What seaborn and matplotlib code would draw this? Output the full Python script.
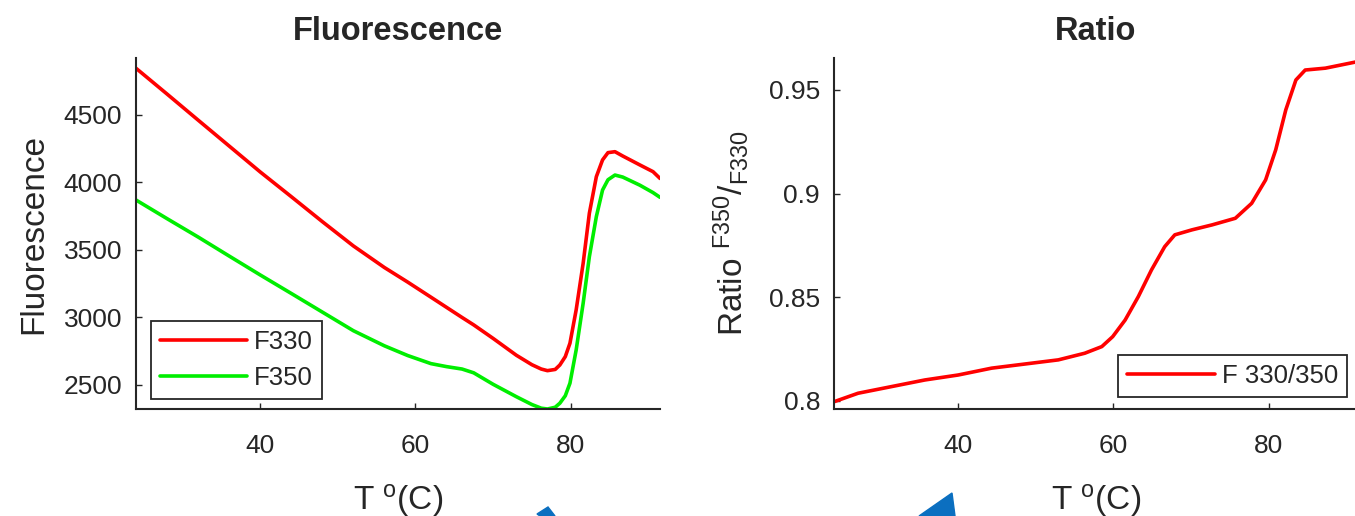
import numpy as np
import pandas as pd
import seaborn as sns
import matplotlib.pyplot as plt
from matplotlib.patches import Polygon

# temperature grid (deg C) and the two fluorescence channels
temp = [24.0, 28.0, 32.0, 36.0, 40.0, 44.0, 48.0, 52.0, 56.0, 59.0, 62.0, 64.0,
        66.0, 67.5, 70.0, 73.0, 75.0, 76.2, 77.0, 78.0, 78.6, 79.3, 79.9, 80.7,
        81.6, 82.4, 83.3, 84.1, 84.8, 85.7, 86.7, 88.9, 90.6, 91.5]
f330 = [4846, 4655, 4462, 4270, 4078, 3895, 3710, 3530, 3370, 3262, 3150, 3075,
        3000, 2945, 2845, 2720, 2650, 2618, 2606, 2615, 2648, 2710, 2809, 3056,
        3401, 3772, 4043, 4167, 4221, 4228, 4196, 4130, 4080, 4030]
f350 = [3870, 3732, 3596, 3455, 3315, 3178, 3040, 2902, 2790, 2718, 2658, 2636,
        2618, 2590, 2505, 2413, 2355, 2328, 2322, 2335, 2365, 2420, 2513, 2759,
        3105, 3450, 3747, 3944, 4020, 4055, 4040, 3980, 3925, 3890]

# ratio curve
ratio_temp = [24.0, 27.1, 31.4, 35.7, 40.0, 44.3, 48.6, 52.9, 56.3, 58.5, 59.9,
              61.5, 63.2, 64.9, 66.6, 67.9, 70.1, 72.7, 75.7, 77.8, 79.6, 80.9,
              82.2, 83.5, 84.7, 87.3, 89.4, 91.5]
ratio = [0.7996, 0.8037, 0.8069, 0.8101, 0.8125, 0.8158, 0.8178, 0.8198, 0.8230,
         0.8262, 0.8310, 0.8390, 0.8503, 0.8632, 0.8744, 0.8801, 0.8825, 0.8849,
         0.8881, 0.8953, 0.9066, 0.9211, 0.9404, 0.9548, 0.9596, 0.9605, 0.9621,
         0.9637]

x_ticks = [40, 60, 80]
fl_ticks = [2500, 3000, 3500, 4000, 4500]
ratio_ticks = [0.8, 0.85, 0.9, 0.95]
ratio_tick_labels = ['0.8', '0.85', '0.9', '0.95']

sns.set_theme(style='ticks')
plt.rcParams['font.family'] = ['Liberation Sans', 'DejaVu Sans']

dark = '#262626'
W, H = 1355, 516
fig = plt.figure(figsize=(W / 100, H / 100), dpi=100)
ax1 = fig.add_axes([136 / W, 107 / H, 524 / W, 351 / H])
ax2 = fig.add_axes([834 / W, 107 / H, 524 / W, 351 / H])

df = pd.DataFrame({'T': temp, 'F330': f330, 'F350': f350})
df_r = pd.DataFrame({'T': ratio_temp, 'ratio': ratio})

sns.lineplot(data=df, x='T', y='F330', color='#ff0000', lw=2.6, label='F330', ax=ax1)
sns.lineplot(data=df, x='T', y='F350', color='#00ee00', lw=2.6, label='F350', ax=ax1)
sns.lineplot(data=df_r, x='T', y='ratio', color='#ff0000', lw=2.6, label='F 330/350', ax=ax2)

ax1.set_xlim(24.0, 91.5)
ax1.set_ylim(2322, 4922)
ax1.set_yticks(fl_ticks)
ax2.set_xlim(24.0, 91.5)
ax2.set_ylim(0.7961, 0.9654)
ax2.set_yticks(ratio_ticks)
ax2.set_yticklabels(ratio_tick_labels)

for ax in (ax1, ax2):
    ax.set_xticks(x_ticks)
    ax.spines[['top', 'right']].set_visible(False)
    for s in ('left', 'bottom'):
        ax.spines[s].set_linewidth(1.5)
        ax.spines[s].set_color(dark)
    ax.tick_params(direction='in', length=4, width=1, colors=dark, labelsize=19)
    ax.tick_params(axis='x', pad=18)
    ax.tick_params(axis='y', pad=10)
    ax.set_xlabel(r'T $\mathregular{{}^{o}}$(C)', fontsize=24, color=dark, labelpad=17)

ax1.set_ylabel('Fluorescence', fontsize=24, color=dark, labelpad=10)
ax2.set_ylabel(r'Ratio $\mathregular{{}^{F350}/{}_{F330}}$', fontsize=24, color=dark, labelpad=13)
ax1.set_title('Fluorescence', fontsize=23.5, fontweight='bold', pad=13)
ax2.set_title('Ratio', fontsize=23.5, fontweight='bold', pad=13)

leg_kw = dict(borderaxespad=0, fontsize=18.5, handlelength=3.4, handletextpad=0.27,
              borderpad=0.35, labelspacing=0.45, frameon=True, fancybox=False,
              edgecolor=dark, framealpha=1)
leg1 = ax1.legend(loc='lower left', bbox_to_anchor=(0.0286, 0.0285), **leg_kw)
leg2 = ax2.legend(loc='lower right', bbox_to_anchor=(0.979, 0.034), **leg_kw)
for leg in (leg1, leg2):
    leg.get_frame().set_linewidth(1.3)

# two blue arrow heads poking in from below
arrows = [[(537, 514), (548, 507), (555, 516), (540, 516)],
          [(919, 516), (952, 493), (955, 516)]]
for pts in arrows:
    fig.patches.append(Polygon([(x / W, 1 - y / H) for x, y in pts], closed=True,
                               transform=fig.transFigure, color='#0b6fc0', zorder=5))

fig.savefig('out.png', dpi=100)
